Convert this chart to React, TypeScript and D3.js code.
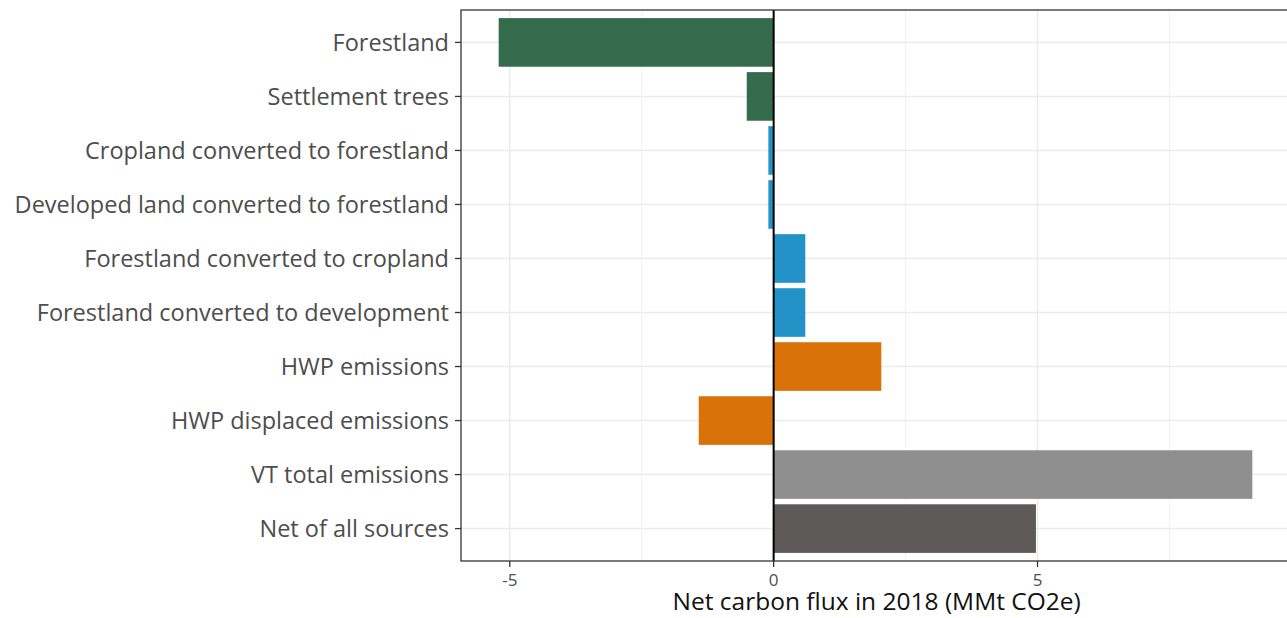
import React from "react";
import * as d3 from "d3";

// categories top to bottom
const categories = [
  "Forestland",
  "Settlement trees",
  "Cropland converted to forestland",
  "Developed land converted to forestland",
  "Forestland converted to cropland",
  "Forestland converted to development",
  "HWP emissions",
  "HWP displaced emissions",
  "VT total emissions",
  "Net of all sources",
];
const fluxValues = [-5.21, -0.51, -0.1, -0.1, 0.6, 0.6, 2.04, -1.42, 9.07, 4.97];
const groups = ["forest", "forest", "conv", "conv", "conv", "conv", "hwp", "hwp", "total", "net"];
const xTicks = [-5, 0, 5];
const xMinor = [-2.5, 2.5, 7.5];

const colors: Record<string, string> = {
  forest: "#336b4b",
  conv: "#2393c7",
  hwp: "#d97208",
  total: "#8f8f8f",
  net: "#5e5a59",
};

const W = 1287;
const H = 618;
const m = { top: 10, right: -3, bottom: 57, left: 461 };

export default function App() {
  const innerW = W - m.left - m.right;
  const innerH = H - m.top - m.bottom;

  const lo = d3.min(fluxValues) as number;
  const hi = d3.max(fluxValues) as number;
  const pad = (hi - lo) * 0.05;
  const x = d3.scaleLinear().domain([lo - pad, hi + pad]).range([0, innerW]);

  // ggplot discrete expansion: 0.6 step on each side
  const step = innerH / (categories.length - 1 + 1.2);
  const yc = (i: number) => (0.6 + i) * step;
  const barH = step * 0.9;

  const font = "'Open Sans', sans-serif";

  return (
    <svg width={W} height={H} style={{ position: "absolute", left: 0, top: 0, background: "#fff" }}>
      <g transform={`translate(${m.left},${m.top})`}>
        {/* grid */}
        {xMinor.map((t) => (
          <line key={"mn" + t} x1={x(t)} x2={x(t)} y1={0} y2={innerH} stroke="#f0f0f0" strokeWidth={1} />
        ))}
        {xTicks.map((t) => (
          <line key={"mj" + t} x1={x(t)} x2={x(t)} y1={0} y2={innerH} stroke="#ebebeb" strokeWidth={1.5} />
        ))}
        {categories.map((c, i) => (
          <line key={"hg" + c} x1={0} x2={innerW} y1={yc(i)} y2={yc(i)} stroke="#ebebeb" strokeWidth={1.5} />
        ))}
        {/* bars */}
        {fluxValues.map((v, i) => (
          <rect
            key={"b" + i}
            x={x(Math.min(0, v))}
            width={Math.abs(x(v) - x(0))}
            y={yc(i) - barH / 2}
            height={barH}
            fill={colors[groups[i]]}
          />
        ))}
        {/* zero line */}
        <line x1={x(0)} x2={x(0)} y1={0} y2={innerH} stroke="#000" strokeWidth={2} />
        {/* panel border */}
        <rect x={0} y={0} width={innerW} height={innerH} fill="none" stroke="#333" strokeWidth={1.3} />
        {/* y axis */}
        {categories.map((c, i) => (
          <g key={"yl" + c}>
            <line x1={-6} x2={0} y1={yc(i)} y2={yc(i)} stroke="#333" strokeWidth={1.3} />
            <text x={-12} y={yc(i)} dy="0.36em" textAnchor="end" fontFamily={font} fontSize={23.5} fill="#4d4d4d">
              {c}
            </text>
          </g>
        ))}
        {/* x axis */}
        {xTicks.map((t) => (
          <g key={"xt" + t}>
            <line x1={x(t)} x2={x(t)} y1={innerH} y2={innerH + 6} stroke="#333" strokeWidth={1.3} />
            <text x={x(t)} y={innerH + 25} textAnchor="middle" fontFamily={font} fontSize={17} fill="#4d4d4d">
              {t}
            </text>
          </g>
        ))}
        <text x={x(0) + 103} y={innerH + 49} textAnchor="middle" fontFamily={font} fontSize={24.5} fill="#111">
          Net carbon flux in 2018 (MMt CO2e)
        </text>
      </g>
    </svg>
  );
}
